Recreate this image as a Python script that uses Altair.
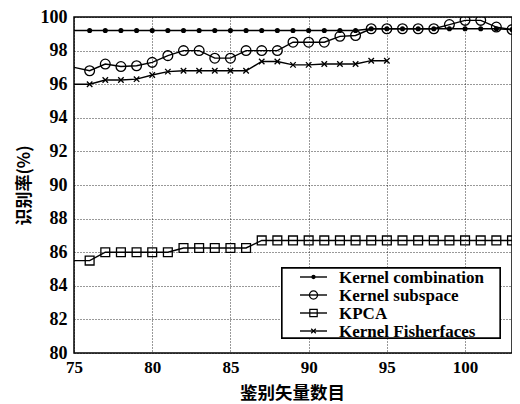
import altair as alt
import pandas as pd

x_vals = list(range(75, 104))
x_fisher = list(range(75, 96))

series_names = ["Kernel combination", "Kernel subspace", "KPCA", "Kernel Fisherfaces"]

combo = [99.2, 99.2, 99.2, 99.2, 99.2, 99.2, 99.2, 99.2, 99.2, 99.2,
         99.2, 99.2, 99.2, 99.2, 99.2, 99.2, 99.2, 99.2, 99.2, 99.3,
         99.3, 99.3, 99.3, 99.3, 99.3, 99.3, 99.3, 99.3, 99.25]
subspace = [97.0, 96.8, 97.2, 97.05, 97.1, 97.3, 97.7, 98.0, 98.0, 97.55,
            97.55, 98.0, 98.0, 98.0, 98.5, 98.5, 98.5, 98.85, 98.9, 99.3,
            99.3, 99.3, 99.3, 99.3, 99.55, 99.8, 99.8, 99.4, 99.25]
kpca = [85.5, 85.5, 86.0, 86.0, 86.0, 86.0, 86.0, 86.25, 86.25, 86.25,
        86.25, 86.25, 86.7, 86.7, 86.7, 86.7, 86.7, 86.7, 86.7, 86.7,
        86.7, 86.7, 86.7, 86.7, 86.7, 86.7, 86.7, 86.7, 86.7]
fisher = [96.0, 96.0, 96.25, 96.25, 96.3, 96.55, 96.75, 96.8, 96.8, 96.8,
          96.8, 96.8, 97.35, 97.35, 97.15, 97.15, 97.2, 97.2, 97.2, 97.4, 97.4]

x_ticks = [75, 80, 85, 90, 95, 100]
y_ticks = [80, 82, 84, 86, 88, 90, 92, 94, 96, 98, 100]

rows = []
for name, xs, ys in [(series_names[0], x_vals, combo), (series_names[1], x_vals, subspace),
                     (series_names[2], x_vals, kpca), (series_names[3], x_fisher, fisher)]:
    for xv, yv in zip(xs, ys):
        rows.append({"x": xv, "y": yv, "series": name})
df = pd.DataFrame(rows)

W, H = 438, 336
serif = "Liberation Serif"
cjk = "Noto Sans CJK SC"

xenc = alt.X("x:Q", scale=alt.Scale(domain=[75, 103], nice=False, zero=False),
             axis=alt.Axis(values=x_ticks, title="鉴别矢量数目", grid=True, ticks=False, domain=False,
                           labelFont=serif, labelFontWeight="bold", labelFontSize=17, labelColor="black",
                           labelPadding=6, labelOverlap=False, labelFlush=False,
                           gridColor="black", gridDash=[1, 2], gridWidth=1, gridOpacity=0.8,
                           titleFont=cjk, titleFontSize=17.5, titleFontWeight="bold", titleColor="black",
                           titleX=W / 2 - 1, titleY=40, titleBaseline="middle"))
yenc = alt.Y("y:Q", scale=alt.Scale(domain=[80, 100], nice=False, zero=False),
             axis=alt.Axis(values=y_ticks, title="识别率(%)", grid=True, ticks=False, domain=False,
                           labelFont=serif, labelFontWeight="bold", labelFontSize=18, labelColor="black",
                           labelPadding=7, labelOverlap=False, labelFlush=False,
                           gridColor="black", gridDash=[1, 2], gridWidth=1, gridOpacity=0.8,
                           titleFont=cjk, titleFontSize=17, titleFontWeight="bold", titleColor="black",
                           titleX=-50, titleY=H / 2, titleBaseline="middle", titleAlign="center"))

base = alt.Chart(df)
lines = base.mark_line(color="black", strokeWidth=1.4, clip=True).encode(
    x=xenc, y=yenc, detail="series:N")

xpath = "M-1,-1L1,1M-1,1L1,-1"
styles = {
    series_names[0]: dict(shape="circle", filled=True, size=26),
    series_names[1]: dict(shape="circle", filled=False, size=95),
    series_names[2]: dict(shape="square", filled=False, size=78),
    series_names[3]: dict(shape=xpath, filled=False, size=30),
}

layers = [lines]
for name in series_names:
    st = styles[name]
    layers.append(
        base.transform_filter((alt.datum.series == name) & (alt.datum.x >= 76))
        .mark_point(shape=st["shape"], filled=st["filled"], size=st["size"], color="black",
                    strokeWidth=1.3, opacity=1, clip=True)
        .encode(x=xenc, y=yenc)
    )

# legend
lx0, lx1, ly0, ly1 = 208, 426, 251, 321
leg_y = [260, 278, 296, 314]
layers.append(alt.Chart(df).mark_rect(fill="white", stroke="black", strokeWidth=1.3).encode(
    x=alt.value(lx0), x2=alt.value(lx1), y=alt.value(ly0), y2=alt.value(ly1)))
for i, name in enumerate(series_names):
    st = styles[name]
    one = alt.Chart(pd.DataFrame({"series": [name]}))
    layers.append(one.mark_rule(color="black", strokeWidth=1.4).encode(
        x=alt.value(226), x2=alt.value(253), y=alt.value(leg_y[i])))
    layers.append(one.mark_point(shape=st["shape"], filled=st["filled"], size=st["size"] * 0.7,
                                 color="black", strokeWidth=1.2, opacity=1).encode(
        x=alt.value(239.5), y=alt.value(leg_y[i])))
    layers.append(one.mark_text(font=serif, fontWeight="bold", fontSize=17, align="left",
                                baseline="middle", color="black").encode(
        x=alt.value(265), y=alt.value(leg_y[i] + 1), text="series:N"))

chart = alt.layer(*layers).properties(
    width=W, height=H,
    autosize=alt.AutoSizeParams(type="none"),
    padding={"left": 66, "top": 9, "right": 0, "bottom": 52},
    background="white",
).configure_view(stroke="black", strokeWidth=1.5)

chart.save("out.html", embed_options={"renderer": "svg", "actions": False})
